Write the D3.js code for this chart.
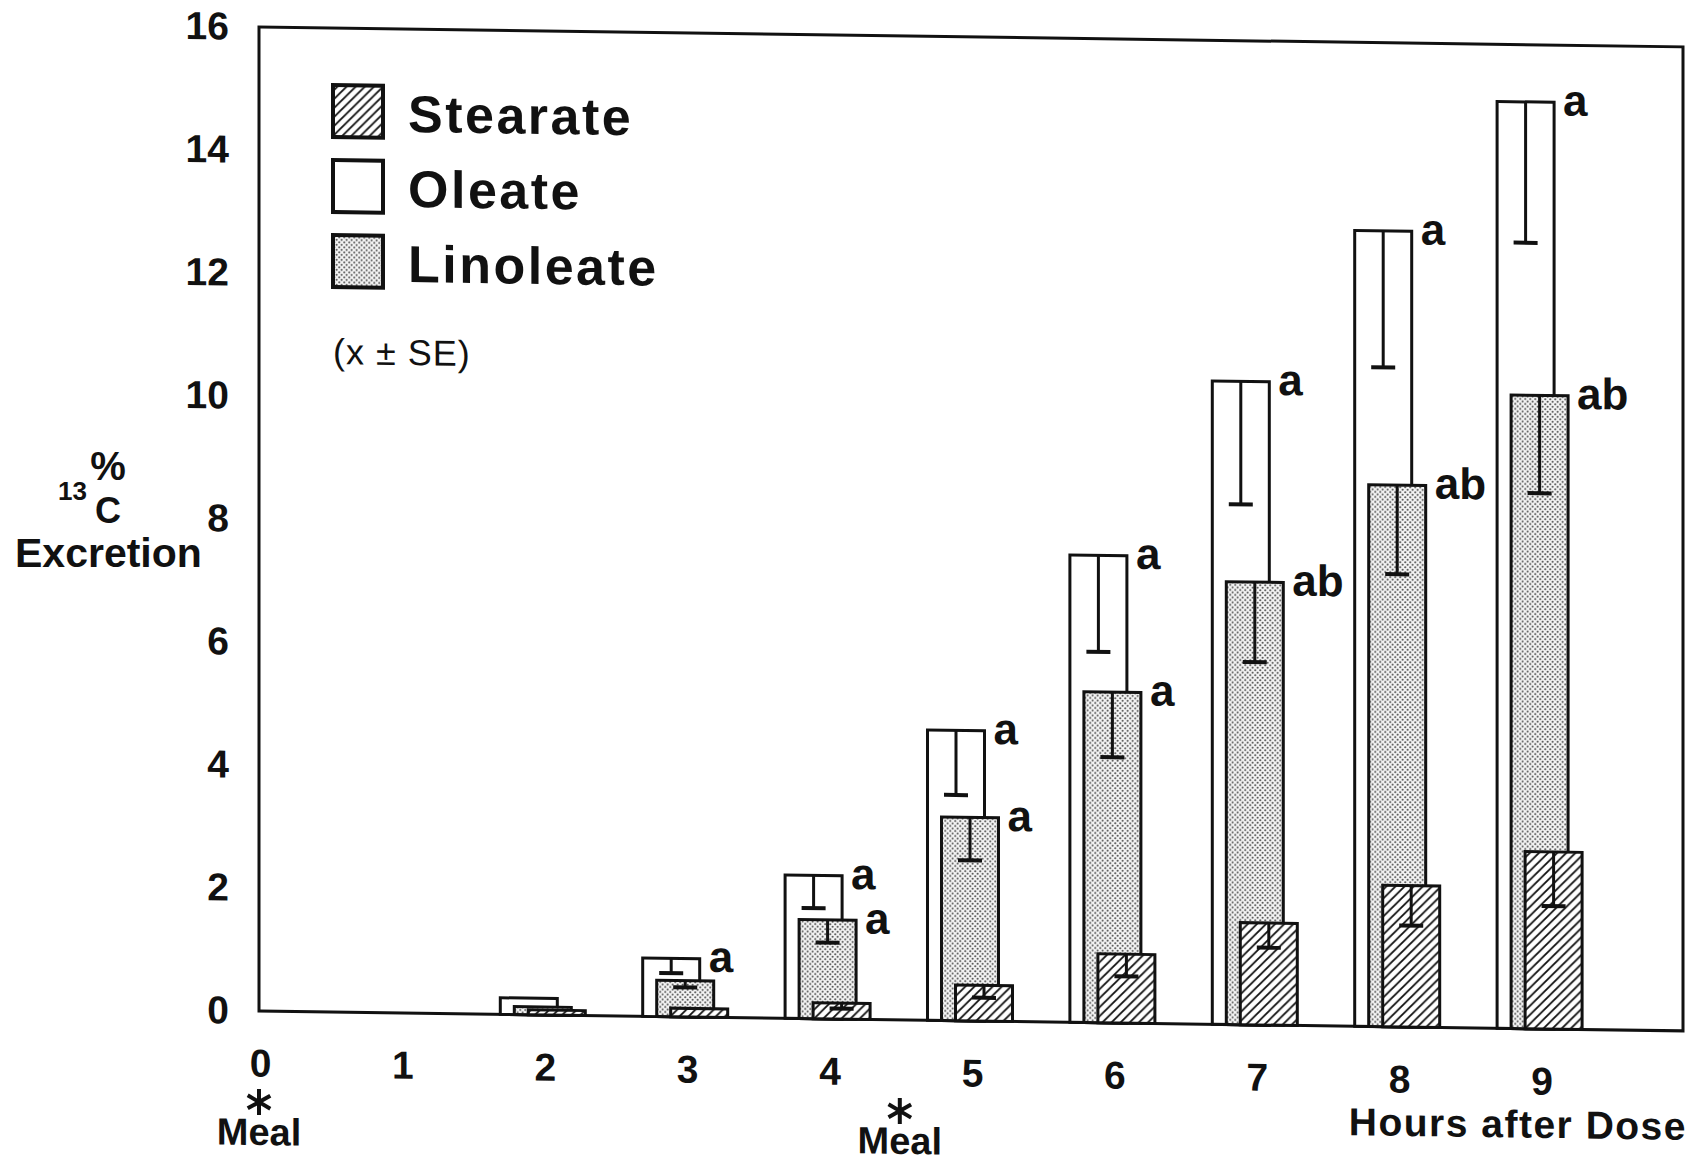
<!DOCTYPE html>
<html>
<head>
<meta charset="utf-8">
<script src="https://cdn.jsdelivr.net/npm/d3@7"></script>
<style>
  body { margin: 0; background: #fff; }
  svg text { font-family: "Liberation Sans", Arial, sans-serif; fill: #111; }
</style>
</head>
<body>
<div class="chart"></div>
<script>
// values (mean, SE), hours after dose
var hours = [2, 3, 4, 5, 6, 7, 8, 9]
  , oleate = [0.27, 0.95, 2.33, 4.72, 7.6, 10.46, 12.94, 15.07]
  , oleateSE = [0, 0.24, 0.53, 1.05, 1.57, 2.0, 2.22, 2.29]
  , linoleate = [0.13, 0.59, 1.61, 3.31, 5.38, 7.2, 8.81, 10.3]
  , linoleateSE = [0, 0.11, 0.37, 0.7, 1.06, 1.3, 1.45, 1.59]
  , stearate = [0.08, 0.14, 0.26, 0.58, 1.12, 1.66, 2.3, 2.88]
  , stearateSE = [0, 0, 0.09, 0.2, 0.36, 0.4, 0.65, 0.88]
  , oleateSig = ['', 'a', 'a', 'a', 'a', 'a', 'a', 'a']
  , linoleateSig = ['', '', 'a', 'a', 'a', 'ab', 'ab', 'ab']
  , stearateSig = ['', '', '', '', '', '', '', '']
  , xTicks = [0, 1, 2, 3, 4, 5, 6, 7, 8, 9]
  , yTicks = [0, 2, 4, 6, 8, 10, 12, 14, 16]
  , legendNames = ['Stearate', 'Oleate', 'Linoleate']
  , meals = [0, 4.5];

var W = 1705
  , H = 1166
  , left = 259
  , plotW = 1424
  , barW = 57
  , step = 14
  , skew = 0.8; // the scanned figure runs slightly downhill

var x = d3.scaleLinear().domain([0, 10]).range([0, plotW]);
var y = d3.scaleLinear().domain([0, 16]).range([1011, 27]);

var svg = d3.select('.chart')
            .append('svg')
            .attr('width', W)
            .attr('height', H);

var defs = svg.append('defs');

var hatch = defs.append('pattern')
    .attr('id', 'hatch')
    .attr('patternUnits', 'userSpaceOnUse')
    .attr('width', 9)
    .attr('height', 9);
hatch.append('rect').attr('width', 9).attr('height', 9).attr('fill', '#fff');
hatch.append('path')
    .attr('d', 'M-2,2 L2,-2 M0,9 L9,0 M7,11 L11,7')
    .attr('stroke', '#111')
    .attr('stroke-width', 1.8);

var dots = defs.append('pattern')
    .attr('id', 'dots')
    .attr('patternUnits', 'userSpaceOnUse')
    .attr('width', 5)
    .attr('height', 5);
dots.append('rect').attr('width', 5).attr('height', 5).attr('fill', '#f4f4f4');
dots.append('circle').attr('cx', 1.2).attr('cy', 1.2).attr('r', 0.95).attr('fill', '#444');
dots.append('circle').attr('cx', 3.7).attr('cy', 3.7).attr('r', 0.95).attr('fill', '#444');

var fills = { Stearate: 'url(#hatch)', Oleate: '#fff', Linoleate: 'url(#dots)' };

var g = svg.append('g')
    .attr('transform', 'translate(' + left + ',0) skewY(' + skew + ')');

// axes: labels only, the frame is drawn separately
var yAxis = g.append('g')
    .call(d3.axisLeft(y).tickValues(yTicks).tickSize(0).tickPadding(30));
var xAxis = g.append('g')
    .attr('transform', 'translate(1,' + y(0) + ')')
    .call(d3.axisBottom(x).tickValues(xTicks).tickSize(0).tickPadding(38));

[yAxis, xAxis].forEach(function (a) {
  a.select('.domain').remove();
  a.selectAll('text')
    .style('font-size', '39px')
    .style('font-weight', 'bold')
    .attr('fill', '#111');
});

g.append('rect')
    .attr('x', x(0))
    .attr('y', y(16))
    .attr('width', x(10) - x(0))
    .attr('height', y(0) - y(16))
    .attr('fill', 'none')
    .attr('stroke', '#111')
    .attr('stroke-width', 3);

var series = [
  { name: 'Oleate', values: oleate, se: oleateSE, sig: oleateSig, k: -1 },
  { name: 'Linoleate', values: linoleate, se: linoleateSE, sig: linoleateSig, k: 0 },
  { name: 'Stearate', values: stearate, se: stearateSE, sig: stearateSig, k: 1 }
];

series.forEach(function (s) {
  var rows = hours.map(function (h, i) {
    return { h: h, v: s.values[i], se: s.se[i], sig: s.sig[i] };
  });
  var cx = function (d) { return x(d.h) - 1 + s.k * step; };

  var grp = g.append('g').attr('class', s.name.toLowerCase());

  grp.selectAll('rect')
      .data(rows)
      .enter()
      .append('rect')
      .attr('x', function (d) { return cx(d) - barW / 2; })
      .attr('y', function (d) { return y(d.v); })
      .attr('width', barW)
      .attr('height', function (d) { return y(0) - y(d.v); })
      .attr('fill', fills[s.name])
      .attr('stroke', '#111')
      .attr('stroke-width', 3);

  var err = rows.filter(function (d) { return d.se > 0; });

  grp.selectAll('line.stem')
      .data(err)
      .enter()
      .append('line')
      .attr('class', 'stem')
      .attr('x1', cx)
      .attr('x2', cx)
      .attr('y1', function (d) { return y(d.v); })
      .attr('y2', function (d) { return y(d.v - d.se); })
      .attr('stroke', '#111')
      .attr('stroke-width', 3);

  grp.selectAll('line.cap')
      .data(err)
      .enter()
      .append('line')
      .attr('class', 'cap')
      .attr('x1', function (d) { return cx(d) - 12; })
      .attr('x2', function (d) { return cx(d) + 12; })
      .attr('y1', function (d) { return y(d.v - d.se); })
      .attr('y2', function (d) { return y(d.v - d.se); })
      .attr('stroke', '#111')
      .attr('stroke-width', 4);

  grp.selectAll('text')
      .data(rows.filter(function (d) { return d.sig; }))
      .enter()
      .append('text')
      .attr('x', function (d) { return cx(d) + barW / 2 + 9; })
      .attr('y', function (d) { return y(d.v) + 13; })
      .style('font-size', '44px')
      .style('font-weight', 'bold')
      .text(function (d) { return d.sig; });
});

// legend
var legend = g.append('g').attr('transform', 'translate(' + (333 - left) + ',0)');
legendNames.forEach(function (name, i) {
  var cy = 110 + i * 75;
  legend.append('rect')
      .attr('x', 0)
      .attr('y', cy - 26)
      .attr('width', 50)
      .attr('height', 52)
      .attr('fill', fills[name])
      .attr('stroke', '#111')
      .attr('stroke-width', 4);
  legend.append('text')
      .attr('x', 75)
      .attr('y', cy + 20)
      .style('font-size', '52px')
      .style('font-weight', 'bold')
      .style('letter-spacing', '2.5px')
      .text(name);
});
legend.append('text')
    .attr('x', 0)
    .attr('y', 363)
    .style('font-size', '36px')
    .style('letter-spacing', '1px')
    .text('(x \u00b1 SE)');

// meal markers: asterisk symbol over the word
var star = d3.symbol().type(d3.symbolAsterisk).size(480);
meals.forEach(function (m) {
  g.append('path')
      .attr('d', star)
      .attr('transform', 'translate(' + x(m) + ',1102)')
      .attr('fill', 'none')
      .attr('stroke', '#111')
      .attr('stroke-width', 4);
  g.append('text')
      .attr('x', x(m))
      .attr('y', 1145)
      .attr('text-anchor', 'middle')
      .style('font-size', '38px')
      .style('font-weight', 'bold')
      .text('Meal');
});

g.append('text')
    .attr('x', x(10) + 4)
    .attr('y', 1120)
    .attr('text-anchor', 'end')
    .style('font-size', '39px')
    .style('font-weight', 'bold')
    .style('letter-spacing', '1.5px')
    .text('Hours after Dose');

// y title
svg.append('text')
    .attr('x', 108)
    .attr('y', 480)
    .attr('text-anchor', 'middle')
    .style('font-size', '40px')
    .style('font-weight', 'bold')
    .text('%');
svg.append('text')
    .attr('x', 87)
    .attr('y', 500)
    .attr('text-anchor', 'end')
    .style('font-size', '26px')
    .style('font-weight', 'bold')
    .text('13');
svg.append('text')
    .attr('x', 108)
    .attr('y', 523)
    .attr('text-anchor', 'middle')
    .style('font-size', '36px')
    .style('font-weight', 'bold')
    .text('C');
svg.append('text')
    .attr('x', 15)
    .attr('y', 567)
    .style('font-size', '41px')
    .style('font-weight', 'bold')
    .text('Excretion');
</script>
</body>
</html>
